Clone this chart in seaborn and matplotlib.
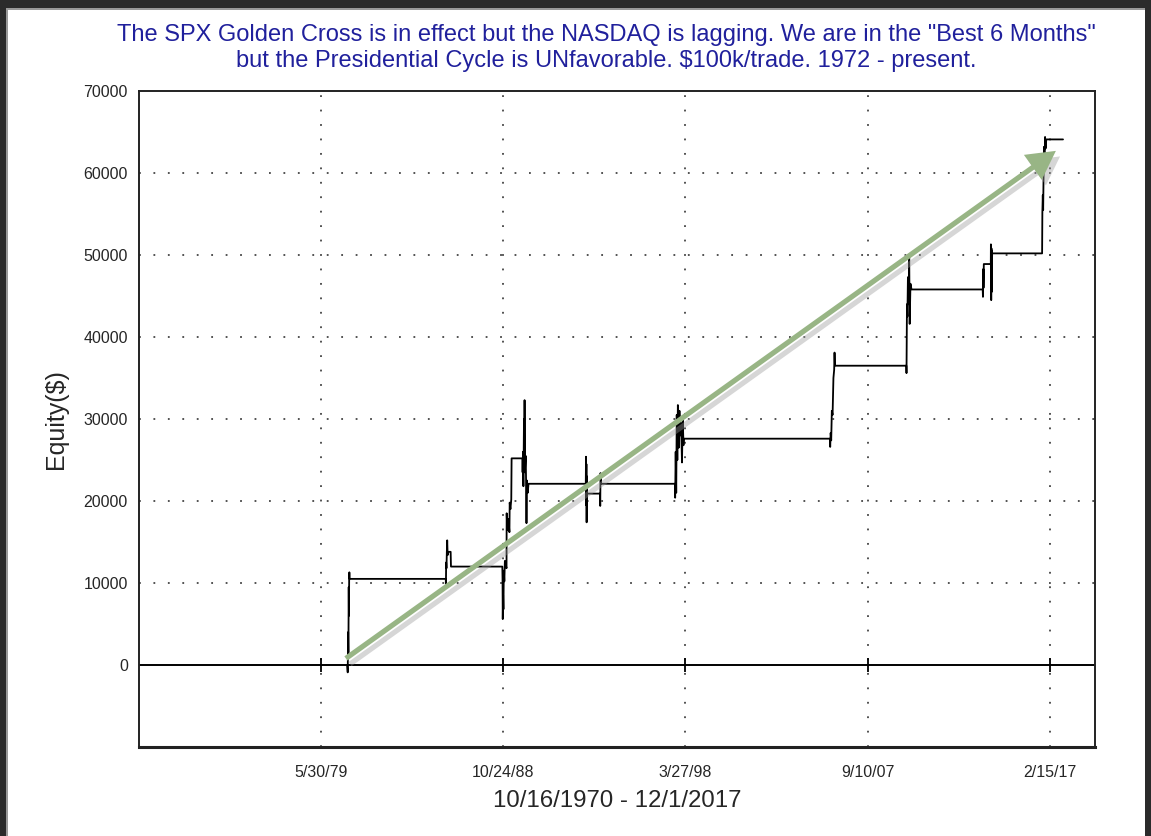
import matplotlib
matplotlib.use("Agg")
import matplotlib.pyplot as plt
import matplotlib.patheffects as pe
from matplotlib.patches import Rectangle
import seaborn as sns
import pandas as pd


# Equity path (each trade drawn as a vertical range joined by flat lines)
trade_dates = [
    "1980-10-10", "1980-10-20", "1980-10-28", "1980-11-02", "1980-11-08", "1980-11-12",
    "1980-11-16", "1980-11-20", "1980-11-24",
    "1985-11-14", "1985-11-18", "1985-11-22", "1985-11-28", "1985-12-05", "1985-12-12",
    "1985-12-20", "1986-01-05", "1986-02-15", "1986-02-21",
    "1988-10-18", "1988-10-22", "1988-10-26", "1988-11-02", "1988-11-08", "1988-11-15",
    "1988-11-25", "1988-12-05", "1989-01-05", "1989-01-08", "1989-01-20", "1989-02-10",
    "1989-03-01", "1989-03-06", "1989-03-20", "1989-04-05", "1989-04-11",
    "1989-11-01", "1989-11-05", "1989-11-12", "1989-11-20", "1989-12-01", "1989-12-08",
    "1989-12-12", "1989-12-18", "1990-01-02", "1990-01-10", "1990-01-17", "1990-01-25",
    "1990-02-10", "1990-02-24",
    "1993-02-10", "1993-02-14", "1993-02-18", "1993-02-22", "1993-02-26", "1993-03-02",
    "1993-03-07", "1993-11-06", "1993-11-10", "1993-11-15", "1993-11-25",
    "1997-09-20", "1997-09-25", "1997-10-05", "1997-10-15", "1997-10-25", "1997-11-05",
    "1997-11-15", "1997-12-01", "1997-12-15", "1998-01-01", "1998-01-15", "1998-02-01",
    "1998-02-15", "1998-03-01", "1998-03-08",
    "2005-09-25", "2005-10-01", "2005-10-10", "2005-10-20", "2005-11-01", "2005-11-15",
    "2005-12-01", "2005-12-15", "2005-12-22", "2005-12-30",
    "2009-09-08", "2009-09-11", "2009-09-20", "2009-09-28", "2009-10-08", "2009-10-20",
    "2009-11-01", "2009-11-10", "2009-11-25", "2009-12-15",
    "2013-08-20", "2013-08-25", "2013-09-01", "2013-09-05", "2013-09-10", "2013-10-02",
    "2014-01-20", "2014-01-22", "2014-01-28", "2014-02-02", "2014-02-06", "2014-02-10",
    "2014-02-12",
    "2016-09-15", "2016-09-20", "2016-09-28", "2016-10-05", "2016-10-15", "2016-10-22",
    "2016-10-29", "2016-11-10", "2016-11-20", "2016-12-03", "2017-10-15",
]
equity = [
    0, -900, 4000, 1500, 9500, 6000,
    10300, 11300, 10500,
    10500, 9900, 12500, 11800, 13800, 15200,
    13400, 13800, 13800, 12000,
    12000, 10500, 5600, 8500, 6800, 11500,
    10200, 12700, 11800, 18500, 16500, 17800,
    16200, 19800, 19000, 20200, 25200,
    25200, 23500, 26000, 21800, 30000, 24000,
    32300, 23500, 25500, 22300, 17300, 22500,
    21000, 22100,
    22100, 25400, 19500, 24500, 17400, 23000,
    20900, 20900, 19400, 23400, 22100,
    22100, 20400, 26000, 21000, 30500, 25000,
    31700, 26500, 31000, 28000, 29500, 24700,
    30200, 26800, 27600,
    27600, 26600, 28300, 27400, 31000, 30500,
    35000, 36000, 38100, 36500,
    36500, 35600, 44000, 42500, 47300, 44000,
    50000, 41600, 46500, 45800,
    45800, 44900, 48300, 46000, 48900, 48900,
    48900, 51300, 44500, 50800, 45500, 50500,
    50200,
    50200, 55200, 57300, 55500, 61000, 63200,
    60500, 64400, 63000, 64100, 64100,
]

date_ticks = ["1979-05-30", "1988-10-24", "1998-03-27", "2007-09-10", "2017-02-15"]
date_tick_labels = ["5/30/79", "10/24/88", "3/27/98", "9/10/07", "2/15/17"]
equity_ticks = [0, 10000, 20000, 30000, 40000, 50000, 60000, 70000]

trend_start = ("1980-08-04", 600)
trend_end = ("2017-07-15", 62900)

title = ('The SPX Golden Cross is in effect but the NASDAQ is lagging. We are in the "Best 6 Months"\n'
         'but the Presidential Cycle is UNfavorable. $100k/trade. 1972 - present.')

sns.set_style("white")
plt.rcParams['font.family'] = ['Liberation Sans', 'DejaVu Sans']

fig = plt.figure(figsize=(11.51, 8.36), dpi=100)
ax = fig.add_axes([0.1208, 0.1065, 0.8305, 0.7846])

df = pd.DataFrame({"date": pd.to_datetime(trade_dates), "equity": equity})
sns.lineplot(data=df, x="date", y="equity", sort=False, estimator=None,
             color="black", linewidth=1.3, ax=ax)

# zero line
ax.axhline(0, color="black", linewidth=1.4, zorder=2)

# limits and ticks
ax.set_xlim(pd.Timestamp("1970-01-05"), pd.Timestamp("2019-06-10"))
ax.set_ylim(-10000, 70000)
tick_pos = pd.to_datetime(date_ticks)
ax.set_xticks(tick_pos)
ax.set_xticklabels(date_tick_labels)
ax.set_yticks(equity_ticks)
ax.set_yticks([v + 5000 for v in [-10000] + equity_ticks[:-1]], minor=True)
ax.tick_params(axis="x", length=0, pad=13, labelsize=11.5)
ax.tick_params(axis="y", which="major", direction="out", length=6, width=1.2,
               pad=2, labelsize=11.5)
ax.tick_params(axis="y", which="minor", direction="inout", length=8, width=1.2)

# dotted grid
dots = (0, (1, 7))
for d in tick_pos:
    ax.axvline(d, color="#444444", linestyle=dots, linewidth=1.3, zorder=1)
for v in equity_ticks[1:-1]:
    ax.axhline(v, color="#444444", linestyle=dots, linewidth=1.3, zorder=1)
# small marks where the date grid meets the zero line
ax.scatter(tick_pos, [0] * len(tick_pos), marker="|", s=90, color="black",
           linewidths=1.3, zorder=3)

for s in ax.spines.values():
    s.set_color("#222222")
    s.set_linewidth(1.4)
ax.spines["bottom"].set_linewidth(2.2)

# trend arrow with soft shadow
ax.annotate("", xy=(pd.Timestamp(trend_end[0]), trend_end[1]),
            xytext=(pd.Timestamp(trend_start[0]), trend_start[1]),
            arrowprops=dict(arrowstyle="simple,head_length=1.2,head_width=1.3,tail_width=0.22",
                            mutation_scale=17, color="#98b585", lw=0,
                            path_effects=[pe.SimplePatchShadow(offset=(3, -4), shadow_rgbFace="#999999", alpha=0.4),
                                          pe.Normal()]),
            zorder=4)

ax.set_xlabel("10/16/1970 - 12/1/2017", fontsize=17.3, labelpad=7)
ax.set_ylabel("Equity($)", fontsize=18, labelpad=11)

fig.text(0.527, 1 - 48 / 836, title, ha="center", va="center",
         fontsize=17, color="#20209c", linespacing=1.28)

# dark window frame
W, H = 1151, 836
frame = "#2b2b2b"
for (x0, y0, w, h) in [(0, H - 8, W, 8), (0, 0, 6, H), (W - 6, 0, 6, H)]:
    fig.patches.append(Rectangle((x0 / W, y0 / H), w / W, h / H, transform=fig.transFigure,
                                 facecolor=frame, edgecolor="none"))
fig.patches.append(Rectangle((6 / W, 0), 1.5 / W, (H - 8) / H, transform=fig.transFigure,
                             facecolor="#9a9a9a", edgecolor="none"))
fig.patches.append(Rectangle((6 / W, (H - 9.5) / H), (W - 12) / W, 1.5 / H, transform=fig.transFigure,
                             facecolor="#9a9a9a", edgecolor="none"))

fig.savefig("out.png", dpi=100)
